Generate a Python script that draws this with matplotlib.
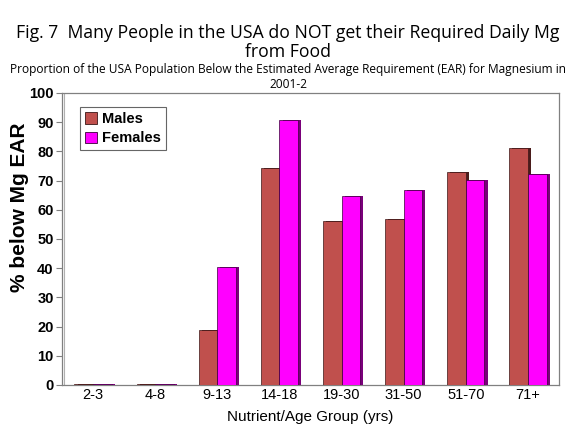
import matplotlib
matplotlib.use("Agg")
import matplotlib.pyplot as plt
import numpy as np
from matplotlib.patches import Patch

categories = ["2-3", "4-8", "9-13", "14-18", "19-30", "31-50", "51-70", "71+"]
males = [0.2, 0.35, 18.8, 74.2, 56.0, 57.0, 73.0, 81.0]
females = [0.2, 0.35, 40.3, 90.7, 64.7, 66.8, 70.2, 72.3]
yticks = list(range(0, 101, 10))

male_c = "#C0504D"
male_dark = "#4A1C1B"
fem_c = "#FF00FF"
fem_dark = "#7A007A"

fig = plt.figure(figsize=(5.76, 4.29), dpi=100)
ax = fig.add_axes([62/576, 1-385/429, (559-62)/576, (385-93)/429])

x = np.arange(len(categories))
w = 0.30
sh = 0.05
ax.bar(x - w/2 + sh, males, w, color=male_dark, zorder=2, linewidth=0)
ax.bar(x - w/2, males, w, color=male_c, edgecolor="#3a1616", linewidth=0.5, zorder=3, label="Males")
ax.bar(x + w/2 + sh, females, w, color=fem_dark, zorder=2, linewidth=0)
ax.bar(x + w/2, females, w, color=fem_c, edgecolor="#3a003a", linewidth=0.5, zorder=3, label="Females")

ax.set_xlim(-0.5, len(categories) - 0.5)
ax.set_ylim(0, 100)
ax.set_yticks(yticks)
ax.set_yticklabels([str(t) for t in yticks], fontsize=10.5, fontweight="bold", family="Liberation Sans")
ax.set_xticks(x)
ax.set_xticklabels(categories, fontsize=10.5, family="Liberation Sans")
ax.tick_params(axis="x", length=0, pad=2)
ax.tick_params(axis="y", length=4, width=0.8, color="#808080", direction="out", pad=2)
for s in ax.spines.values():
    s.set_color("#808080")
    s.set_linewidth(0.9)
    s.set_zorder(1.5)
ax.axvline(-0.5 + 0.03, color="#b0b0b0", lw=0.8, zorder=1)

ax.set_ylabel("% below Mg EAR", fontsize=15, fontweight="bold", family="Liberation Sans")
ax.yaxis.set_label_coords(-0.066, 0.61)
fig.text(0.5 + 0.5*(62 + 559 - 576)/576, 1-417/429, "Nutrient/Age Group (yrs)",
         ha="center", va="center", fontsize=11, family="Liberation Sans")

handles = [Patch(facecolor=male_c, edgecolor="#3a1616", lw=0.6),
           Patch(facecolor=fem_c, edgecolor="#3a003a", lw=0.6)]
leg = ax.legend(handles, ["Males", "Females"], loc="upper left", bbox_to_anchor=(0.036, 0.952),
                prop={"family": "Liberation Sans", "weight": "bold", "size": 10.5},
                frameon=True, fancybox=False, handlelength=0.8, handleheight=0.8,
                handletextpad=0.4, borderpad=0.35, labelspacing=0.35, borderaxespad=0)
leg.get_frame().set_edgecolor("#404040")
leg.get_frame().set_linewidth(0.8)

fig.text(0.5, 1-33/429, "Fig. 7  Many People in the USA do NOT get their Required Daily Mg",
         ha="center", va="center", fontsize=12.7, family="Open Sans")
fig.text(0.5, 1-52/429, "from Food", ha="center", va="center", fontsize=12.7, family="Open Sans")
fig.text(0.5, 1-70/429, "Proportion of the USA Population Below the Estimated Average Requirement (EAR) for Magnesium in",
         ha="center", va="center", fontsize=8.6, family="Open Sans")
fig.text(0.5, 1-85/429, "2001-2", ha="center", va="center", fontsize=8.6, family="Open Sans")

fig.savefig("out.png", dpi=100)
